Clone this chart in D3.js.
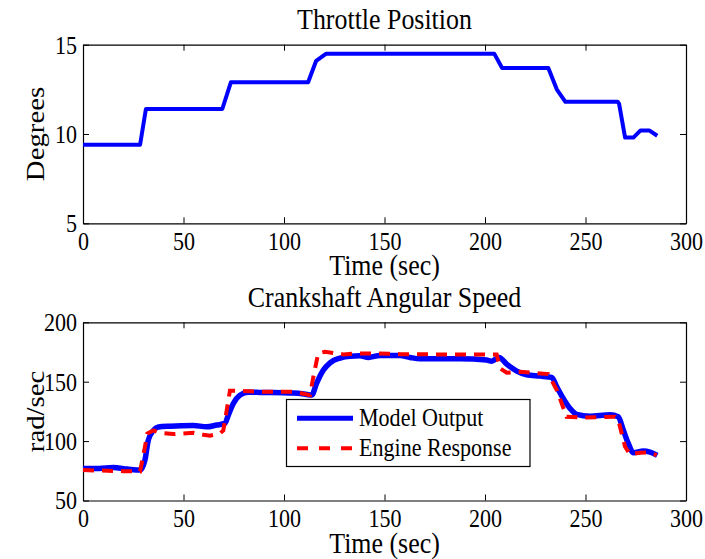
<!DOCTYPE html>
<html>
<head>
<meta charset="utf-8">
<script src="https://cdn.jsdelivr.net/npm/d3@7"></script>
<style>
  html, body { margin: 0; padding: 0; background: #fff; }
  svg { display: block; }
  text { font-family: "Liberation Serif", "Times New Roman", serif; fill: #000; }
</style>
</head>
<body>
<svg id="chart" width="705" height="559"></svg>
<script>
// ---- data ----
const xTicks = [0, 50, 100, 150, 200, 250, 300];
const throttleYTicks = [5, 10, 15];
const speedYTicks = [50, 100, 150, 200];

const throttleT = [0, 28.4, 31.3, 69.3, 73.6, 112, 116, 121, 204.6, 208.5, 231.5, 235.7, 240, 266, 266.7, 269.7, 273.8, 277.4, 281.7, 285.7];
const throttleDeg = [9.4, 9.4, 11.4, 11.4, 12.9, 12.9, 14.1, 14.5, 14.5, 13.7, 13.7, 12.5, 11.8, 11.8, 11.7, 9.8, 9.8, 10.2, 10.2, 9.9];

const modelT = [0, 8, 15, 22, 28.4, 30.8, 32.5, 35, 37.5, 43.3, 54.9, 61.5, 66.5, 70.6, 72.3, 74.8, 78.1, 82.3, 88, 104.6, 110, 113.8, 116.2, 119.6, 122.9, 127.9, 132.8, 137.8, 142, 147.8, 157.7, 162.7, 167.7, 187.6, 200.8, 203.3, 207, 210.8, 215.8, 220.7, 227.4, 233.2, 235.7, 238.9, 242.3, 245.6, 252.2, 262.2, 266.3, 268.8, 271.3, 273.8, 278.8, 282.1, 285.7];
const modelV = [77, 77, 77.7, 76.5, 75.6, 84, 100.8, 109, 111.8, 112.6, 113.2, 112, 113.5, 114.9, 121.9, 131.7, 138.7, 141.2, 141, 140.4, 139.6, 138.7, 148.6, 159.8, 165.9, 169.9, 171.5, 171.8, 170.4, 172.1, 172, 170.4, 169.3, 169.3, 168.2, 167.3, 170.4, 164.8, 158.9, 155.8, 154.7, 153.6, 145.7, 136, 127.5, 122.5, 121, 122.1, 120.5, 109.3, 98, 90.2, 91.6, 90.7, 88];

const engineT = [0, 20, 28.4, 30.8, 32, 35, 38.3, 44.9, 54.9, 59.9, 63.2, 68.2, 69.8, 71.5, 73.1, 76.4, 90, 105, 112.9, 114.6, 117, 120.4, 129.5, 137, 146.1, 157.7, 174.3, 205.8, 207.5, 210.8, 217.4, 224, 231.5, 235.7, 240.6, 248.9, 264.7, 266.3, 269.7, 272.1, 277.1, 281.3, 285.4];
const engineV = [75.6, 74.7, 74.5, 95, 106.4, 109, 107, 105.9, 107, 105.3, 104.5, 106.5, 109, 126, 142.4, 142.4, 141.5, 141.5, 138.7, 154, 173.8, 175.2, 173, 173.8, 173.8, 173.2, 173, 173, 161.2, 157.5, 158.3, 157.5, 156.4, 143, 120.5, 119.9, 120.5, 117.7, 95.2, 89, 90.2, 90.5, 88.2];

const seriesNames = ["Model Output", "Engine Response"];

// ---- drawing ----
const svg = d3.select("#chart");
const X0 = 83, X1 = 686;
const SX = 0.9;          // glyphs in the reference are slightly narrow/tall
const TICK_FS = 24.5, LABEL_FS = 28.8, LEGEND_FS = 24.5;

function addText(parent, x, y, str, fs, anchor, rotate) {
  const rot = rotate ? ` rotate(${rotate})` : "";
  return parent.append("text")
    .attr("transform", `translate(${x},${y})${rot} scale(${SX},1)`)
    .attr("text-anchor", anchor || "start")
    .style("font-size", fs + "px")
    .text(str);
}

function panel(opts) {
  const x = d3.scaleLinear().domain([0, 300]).range([X0, X1]);
  const y = d3.scaleLinear().domain(opts.yDomain).range([opts.bottom, opts.top]);
  const g = svg.append("g");

  const bx = g.append("g").attr("transform", `translate(0,${opts.bottom})`)
    .call(d3.axisBottom(x).tickValues(xTicks).tickSizeInner(-6).tickSizeOuter(0).tickFormat(d3.format("d")));
  bx.selectAll("text").attr("y", 0).attr("dy", 0)
    .attr("transform", `translate(0,26.5) scale(${SX},1)`)
    .style("font-size", TICK_FS + "px").style("font-family", "Liberation Serif");
  g.append("g").attr("transform", `translate(0,${opts.top})`)
    .call(d3.axisTop(x).tickValues(xTicks).tickSizeInner(-6).tickSizeOuter(0).tickFormat(""));
  const ly = g.append("g").attr("transform", `translate(${X0},0)`)
    .call(d3.axisLeft(y).tickValues(opts.yTicks).tickSizeInner(-6).tickSizeOuter(0).tickFormat(d3.format("d")));
  ly.selectAll("text").attr("x", 0).attr("dy", "0.34em")
    .attr("transform", `translate(-6,0) scale(${SX},1)`)
    .style("font-size", TICK_FS + "px").style("font-family", "Liberation Serif");
  g.append("g").attr("transform", `translate(${X1},0)`)
    .call(d3.axisRight(y).tickValues(opts.yTicks).tickSizeInner(-6).tickSizeOuter(0).tickFormat(""));

  g.selectAll(".domain").attr("stroke", "#000").attr("stroke-width", 1.2);
  g.selectAll(".tick line").attr("stroke", "#000").attr("stroke-width", 1);

  addText(g, (X0 + X1) / 2, opts.top - 15.5, opts.title, LABEL_FS, "middle");
  addText(g, (X0 + X1) / 2, opts.bottom + 52, "Time (sec)", LABEL_FS, "middle");
  g.append("text")
    .attr("transform", `translate(43.5,${(opts.top + opts.bottom) / 2}) rotate(-90) scale(1,${SX})`)
    .attr("text-anchor", "middle").style("font-size", LABEL_FS + "px").text(opts.yLabel);

  return { x, y, g };
}

// Top panel: throttle
const p1 = panel({ yDomain: [5, 15], top: 44.7, bottom: 223.3, yTicks: throttleYTicks,
  title: "Throttle Position", yLabel: "Degrees" });
const throttleData = throttleT.map((t, i) => [t, throttleDeg[i]]);
p1.g.append("path").datum(throttleData)
  .attr("fill", "none").attr("stroke", "#0000ff").attr("stroke-width", 4)
  .attr("stroke-linejoin", "round")
  .attr("d", d3.line().x(d => p1.x(d[0])).y(d => p1.y(d[1])));

// Bottom panel: crankshaft speed
const p2 = panel({ yDomain: [50, 200], top: 322.3, bottom: 500.5, yTicks: speedYTicks,
  title: "Crankshaft Angular Speed", yLabel: "rad/sec" });
const modelData = modelT.map((t, i) => [t, modelV[i]]);
const engineData = engineT.map((t, i) => [t, engineV[i]]);
p2.g.append("path").datum(modelData)
  .attr("fill", "none").attr("stroke", "#0000ff").attr("stroke-width", 5.5)
  .attr("stroke-linejoin", "round")
  .attr("d", d3.line().curve(d3.curveMonotoneX).x(d => p2.x(d[0])).y(d => p2.y(d[1])));
p2.g.append("path").datum(engineData)
  .attr("fill", "none").attr("stroke", "#ff0000").attr("stroke-width", 4)
  .attr("stroke-dasharray", "11,8")
  .attr("d", d3.line().x(d => p2.x(d[0])).y(d => p2.y(d[1])));

// Legend
const lg = p2.g.append("g");
lg.append("rect").attr("x", 286.5).attr("y", 399.5).attr("width", 243.5).attr("height", 67)
  .attr("fill", "#fff").attr("stroke", "#000").attr("stroke-width", 1.2);
const legendStyles = [
  { color: "#0000ff", width: 5, dash: null },
  { color: "#ff0000", width: 4, dash: "11,11" }
];
seriesNames.forEach((name, i) => {
  const yy = 418.3 + i * 30;
  lg.append("line").attr("x1", 297).attr("x2", 353).attr("y1", yy).attr("y2", yy)
    .attr("stroke", legendStyles[i].color).attr("stroke-width", legendStyles[i].width)
    .attr("stroke-dasharray", legendStyles[i].dash);
  addText(lg, 359, yy + 7.5, name, LEGEND_FS, "start");
});
</script>
</body>
</html>
